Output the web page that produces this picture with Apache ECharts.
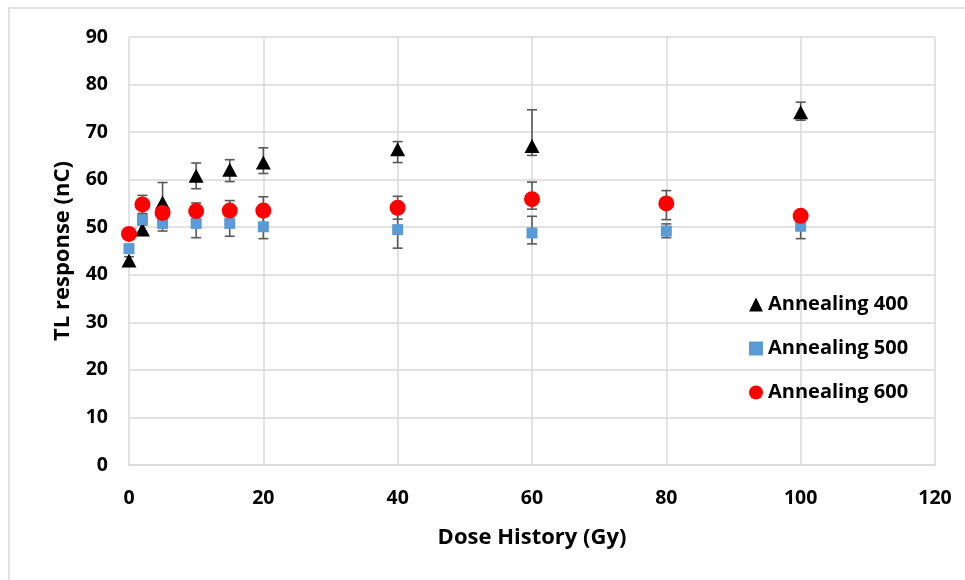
<!DOCTYPE html>
<html>
<head>
<meta charset="utf-8">
<script src="https://cdn.jsdelivr.net/npm/echarts@6/dist/echarts.min.js"></script>
<style>
  html, body { margin: 0; padding: 0; background: #ffffff; }
  #chart { width: 965px; height: 580px; }
</style>
</head>
<body>
<div id="chart"></div>
<script>
// Dose history (Gy) for each annealing group
const dose400 = [0, 2, 5, 10, 15, 20, 40, 60, 100];
const dose500 = [0, 2, 5, 10, 15, 20, 40, 60, 80, 100];
const dose600 = [0, 2, 5, 10, 15, 20, 40, 60, 80, 100];

// Mean TL response (nC)
const tl400 = [43.0, 49.5, 55.2, 60.8, 62.1, 63.6, 66.4, 67.1, 74.2];
const tl500 = [45.5, 51.6, 50.8, 50.8, 50.8, 50.1, 49.5, 48.8, 49.2, 50.2];
const tl600 = [48.6, 54.8, 53.0, 53.4, 53.5, 53.5, 54.1, 55.9, 55.0, 52.4];

// Error bar limits (nC)
const hi400 = [43.8, 50.5, 59.4, 63.5, 64.2, 66.7, 68.0, 74.7, 76.3];
const lo400 = [42.2, 48.5, 51.0, 58.1, 59.6, 61.3, 63.6, 65.1, 72.5];
const hi500 = [46.3, 52.6, 52.4, 53.8, 53.5, 52.6, 53.4, 52.3, 50.7, 52.8];
const lo500 = [44.7, 50.6, 49.2, 47.8, 48.1, 47.6, 45.6, 46.5, 47.8, 47.6];
const hi600 = [49.6, 56.7, 53.8, 55.1, 55.6, 56.4, 56.5, 59.5, 57.7, 53.4];
const lo600 = [47.6, 52.9, 52.2, 51.7, 51.4, 50.6, 51.7, 53.8, 51.6, 51.4];

const seriesNames = ['Annealing 400', 'Annealing 500', 'Annealing 600'];
const xTicks = [0, 20, 40, 60, 80, 100, 120];
const yTicks = [0, 10, 20, 30, 40, 50, 60, 70, 80, 90];

const FONT = '"Open Sans", sans-serif';
const GRID_COLOR = '#d9d9d9';
const ERR_COLOR = '#595959';

function pairs(xs, ys) { return xs.map((x, i) => [x, ys[i]]); }
function errData(xs, lo, hi) { return xs.map((x, i) => [x, lo[i], hi[i]]); }

function errorBarSeries(name, data) {
  return {
    name: name + ' (error)',
    type: 'custom',
    z: 2,
    silent: true,
    data: data,
    encode: { x: 0, y: [1, 2] },
    renderItem: function (params, api) {
      const x = api.value(0);
      const top = api.coord([x, api.value(2)]);
      const bot = api.coord([x, api.value(1)]);
      const cap = 5;
      const style = { stroke: ERR_COLOR, lineWidth: 1.6, fill: null };
      return {
        type: 'group',
        children: [
          { type: 'line', shape: { x1: top[0], y1: top[1], x2: bot[0], y2: bot[1] }, style: style },
          { type: 'line', shape: { x1: top[0] - cap, y1: top[1], x2: top[0] + cap, y2: top[1] }, style: style },
          { type: 'line', shape: { x1: bot[0] - cap, y1: bot[1], x2: bot[0] + cap, y2: bot[1] }, style: style }
        ]
      };
    }
  };
}

const chart = echarts.init(document.getElementById('chart'), null, { renderer: 'canvas' });

chart.setOption({
  animation: false,
  backgroundColor: '#ffffff',
  textStyle: { fontFamily: FONT },
  graphic: [{
    type: 'rect',
    silent: true,
    z: -1,
    shape: { x: 9, y: 8, width: 1000, height: 620 },
    style: { fill: null, stroke: GRID_COLOR, lineWidth: 1.5 }
  }],
  grid: { left: 129, right: 30, top: 37, bottom: 115, containLabel: false },
  xAxis: {
    type: 'value',
    min: xTicks[0],
    max: xTicks[xTicks.length - 1],
    interval: 20,
    name: 'Dose History (Gy)',
    nameLocation: 'middle',
    nameGap: 62,
    nameTextStyle: { fontFamily: FONT, fontWeight: 'bold', fontSize: 22, color: '#000' },
    axisLine: { show: true, lineStyle: { color: GRID_COLOR, width: 1.5 } },
    axisTick: { show: false },
    axisLabel: { fontFamily: FONT, fontWeight: 'bold', fontSize: 19.5, color: '#000', margin: 23 },
    splitLine: { show: true, lineStyle: { color: GRID_COLOR, width: 1.5 } }
  },
  yAxis: {
    type: 'value',
    min: yTicks[0],
    max: yTicks[yTicks.length - 1],
    interval: 10,
    name: 'TL response (nC)',
    nameLocation: 'middle',
    nameRotate: 90,
    nameGap: 55,
    nameTextStyle: { fontFamily: FONT, fontWeight: 'bold', fontSize: 22, color: '#000' },
    axisLine: { show: false },
    axisTick: { show: false },
    axisLabel: { fontFamily: FONT, fontWeight: 'bold', fontSize: 19.5, color: '#000', margin: 21 },
    splitLine: { show: true, lineStyle: { color: GRID_COLOR, width: 1.5 } }
  },
  legend: {
    orient: 'vertical',
    left: 744,
    top: 289,
    itemWidth: 14,
    itemHeight: 14,
    itemGap: 23,
    textStyle: { fontFamily: FONT, fontWeight: 'bold', fontSize: 20, color: '#000', lineHeight: 21 },
    data: [
      { name: seriesNames[0], icon: 'triangle' },
      { name: seriesNames[1], icon: 'rect' },
      { name: seriesNames[2], icon: 'circle' }
    ]
  },
  series: [
    errorBarSeries(seriesNames[0], errData(dose400, lo400, hi400)),
    {
      name: seriesNames[0],
      type: 'scatter',
      z: 3,
      symbol: 'triangle',
      symbolSize: [15, 14],
      itemStyle: { color: '#000000', opacity: 1 },
      data: pairs(dose400, tl400)
    },
    errorBarSeries(seriesNames[1], errData(dose500, lo500, hi500)),
    {
      name: seriesNames[1],
      type: 'scatter',
      z: 4,
      symbol: 'rect',
      symbolSize: 11,
      itemStyle: { color: '#5b9bd5', opacity: 1 },
      data: pairs(dose500, tl500)
    },
    errorBarSeries(seriesNames[2], errData(dose600, lo600, hi600)),
    {
      name: seriesNames[2],
      type: 'scatter',
      z: 5,
      symbol: 'circle',
      symbolSize: 16,
      itemStyle: { color: '#ff0000', opacity: 1 },
      data: pairs(dose600, tl600)
    }
  ]
});
</script>
</body>
</html>
